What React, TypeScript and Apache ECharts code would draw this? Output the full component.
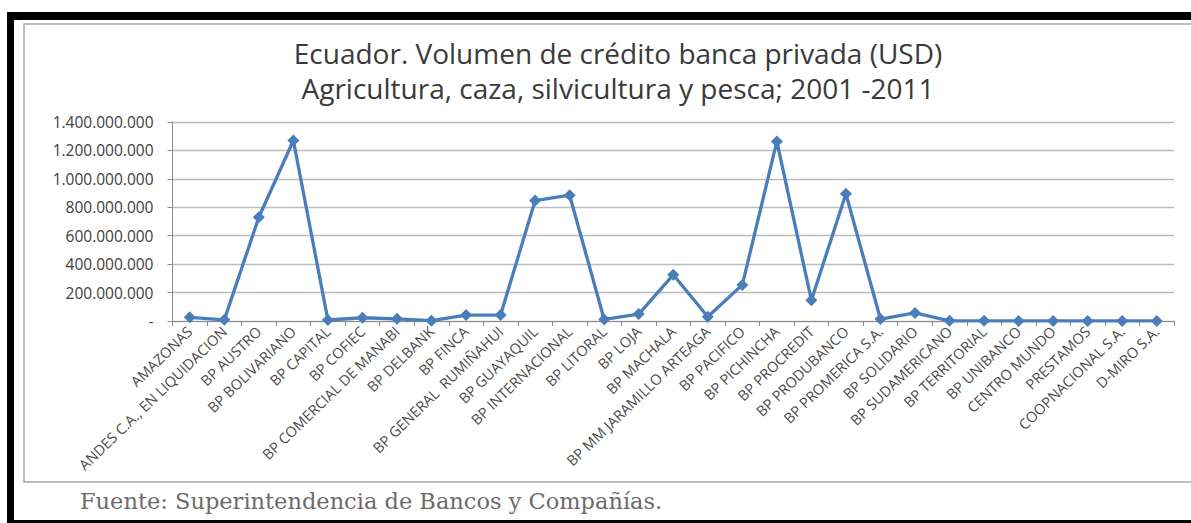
import React, { useEffect, useRef } from "react";
import * as echarts from "echarts";

const categories = [
  "AMAZONAS",
  "ANDES C.A., EN LIQUIDACION",
  "BP AUSTRO",
  "BP BOLIVARIANO",
  "BP CAPITAL",
  "BP COFIEC",
  "BP COMERCIAL DE MANABI",
  "BP DELBANK",
  "BP FINCA",
  "BP GENERAL  RUMIÑAHUI",
  "BP GUAYAQUIL",
  "BP INTERNACIONAL",
  "BP LITORAL",
  "BP LOJA",
  "BP MACHALA",
  "BP MM JARAMILLO ARTEAGA",
  "BP PACIFICO",
  "BP PICHINCHA",
  "BP PROCREDIT",
  "BP PRODUBANCO",
  "BP PROMERICA S.A.",
  "BP SOLIDARIO",
  "BP SUDAMERICANO",
  "BP TERRITORIAL",
  "BP UNIBANCO",
  "CENTRO MUNDO",
  "PRESTAMOS",
  "COOPNACIONAL S.A.",
  "D-MIRO S.A.",
];

const volumen = [
  26000000, 8000000, 730000000, 1270000000, 7000000, 23000000, 15000000,
  2000000, 42000000, 42000000, 847000000, 885000000, 11000000, 49000000,
  325000000, 30000000, 254000000, 1263000000, 146000000, 895000000,
  14000000, 57000000, 1500000, 1000000, 800000, 500000, 300000, 600000,
  400000,
];

const yTicks = [0, 200000000, 400000000, 600000000, 800000000, 1000000000, 1200000000, 1400000000];

const titleLines = [
  "Ecuador. Volumen de crédito banca privada (USD)",
  "Agricultura, caza, silvicultura y pesca; 2001 -2011",
];
const sourceText = "Fuente: Superintendencia de Bancos y Compañías.";

function fmt(v: number): string {
  if (v === 0) return "-";
  return String(Math.round(v)).replace(/\B(?=(\d{3})+(?!\d))/g, ".");
}

export default function App() {
  const ref = useRef<HTMLDivElement>(null);
  useEffect(() => {
    document.body.style.margin = "0";
    const chart = echarts.init(ref.current!, null, { renderer: "svg" });
    chart.setOption({
      animation: false,
      backgroundColor: "#ffffff",
      title: {
        text: titleLines.join("\n"),
        left: 613,
        top: 30,
        textAlign: "center",
        textStyle: {
          fontFamily: "Open Sans",
          fontSize: 28,
          fontWeight: "normal",
          color: "#3a3a3a",
          lineHeight: 35,
        },
      },
      grid: { left: 172.5, right: 17, top: 122, bottom: 202, containLabel: false },
      xAxis: {
        type: "category",
        data: categories,
        boundaryGap: true,
        axisLine: { show: true, lineStyle: { color: "#8c8c8c", width: 1 } },
        axisTick: { show: true, alignWithLabel: false, length: 5, lineStyle: { color: "#8c8c8c" } },
        axisLabel: {
          interval: 0,
          rotate: 44,
          margin: 8,
          fontFamily: "Open Sans",
          fontSize: 14.5,
          color: "#4a4a4a",
        },
      },
      yAxis: {
        type: "value",
        min: yTicks[0],
        max: yTicks[yTicks.length - 1],
        interval: yTicks[1] - yTicks[0],
        axisLine: { show: true, lineStyle: { color: "#8c8c8c", width: 1 } },
        axisTick: { show: true, length: 5, lineStyle: { color: "#8c8c8c" } },
        splitLine: { show: true, lineStyle: { color: "#bcbcbc", width: 1.3 } },
        axisLabel: {
          margin: 19,
          fontFamily: "Open Sans",
          fontSize: 15.5,
          color: "#404040",
          formatter: (v: number) => fmt(v),
        },
      },
      series: [
        {
          type: "line",
          data: volumen,
          symbol: "diamond",
          symbolSize: 12,
          lineStyle: { color: "#4a7ebb", width: 3.3 },
          itemStyle: { color: "#4a7ebb" },
        },
      ],
      graphic: [
        { type: "rect", shape: { x: 24, y: 24, width: 1200, height: 458 }, style: { fill: "none", stroke: "#a6a6a6", lineWidth: 1.5 }, z: 1 },
        { type: "rect", shape: { x: 7, y: 12, width: 1184, height: 8 }, style: { fill: "#000000" }, z: 10 },
        { type: "rect", shape: { x: 7, y: 12, width: 7, height: 511 }, style: { fill: "#000000" }, z: 10 },
        { type: "rect", shape: { x: 7, y: 520, width: 1184, height: 3 }, style: { fill: "#000000" }, z: 10 },
        {
          type: "text",
          x: 80,
          y: 501,
          style: {
            text: sourceText,
            fontFamily: "DejaVu Serif",
            fontSize: 22.5,
            fill: "#6e6a6c",
            textVerticalAlign: "middle",
          },
          z: 10,
        },
      ],
    });
    return () => chart.dispose();
  }, []);
  return <div ref={ref} style={{ width: 1191, height: 523 }} />;
}
